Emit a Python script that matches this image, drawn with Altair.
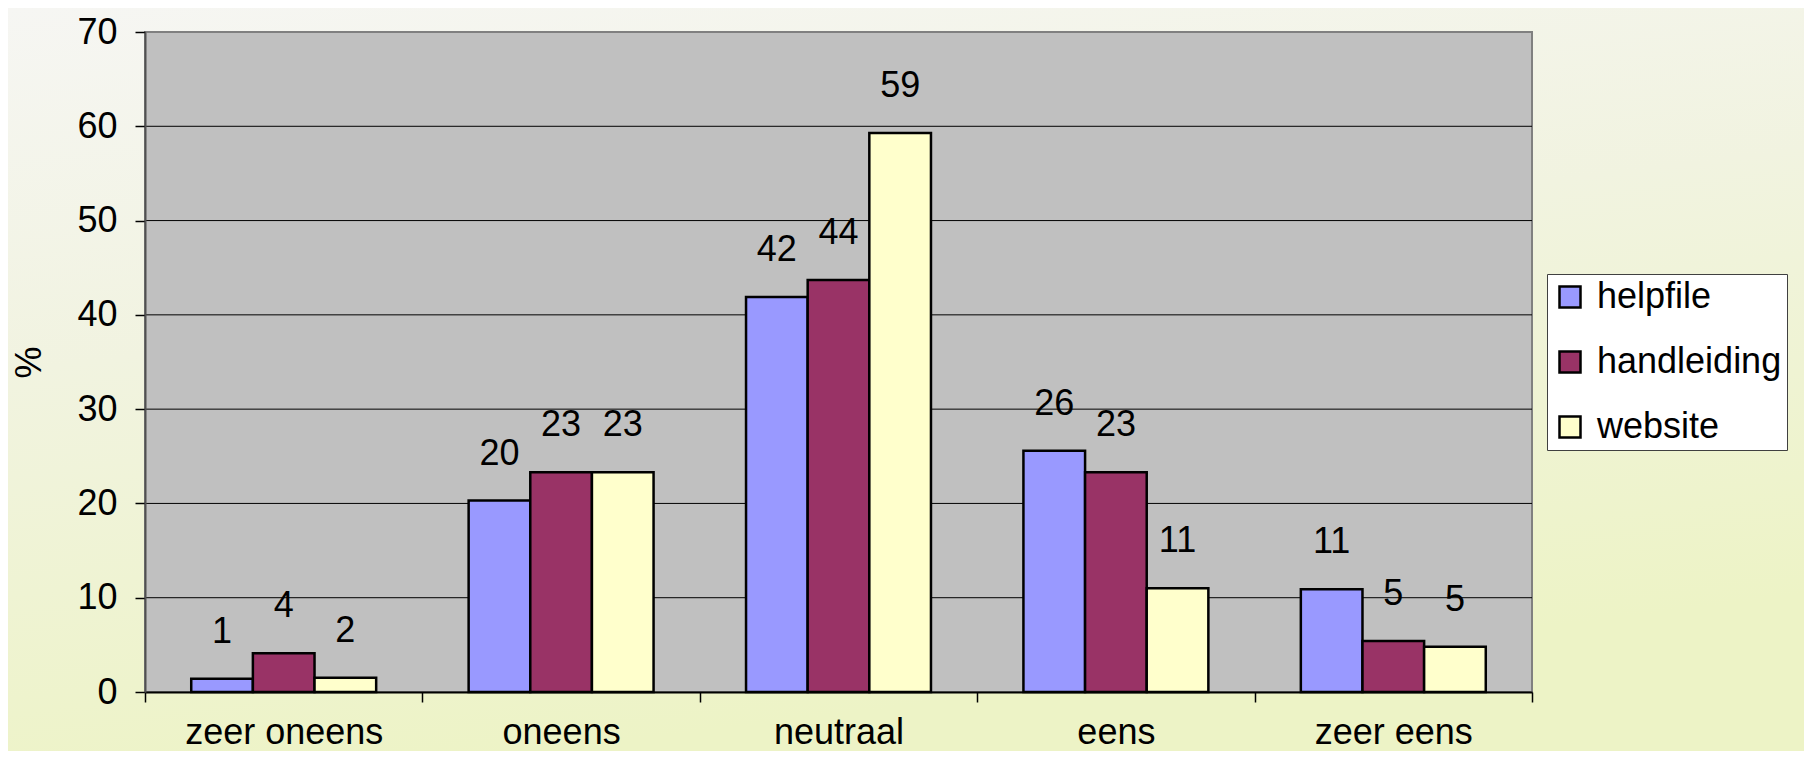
import altair as alt
import pandas as pd

categories = ["zeer oneens", "oneens", "neutraal", "eens", "zeer eens"]
series = ["helpfile", "handleiding", "website"]
helpfile = [1.4, 20.3, 41.9, 25.6, 10.9]
handleiding = [4.1, 23.3, 43.7, 23.3, 5.4]
website = [1.5, 23.3, 59.3, 11.0, 4.8]
y_ticks = [0, 10, 20, 30, 40, 50, 60, 70]
grid_values = [10, 20, 30, 40, 50, 60]
colors = ["#9999FF", "#993366", "#FFFFCC"]

rows = []
for s, vals in zip(series, [helpfile, handleiding, website]):
    for c, v in zip(categories, vals):
        rows.append({"categorie": c, "reeks": s, "waarde": v})
df = pd.DataFrame(rows)

W, H = 1387, 660
PAD = {"left": 137, "top": 24, "right": 272, "bottom": 59}
FONT = "Liberation Sans"

yscale = alt.Scale(domain=[0, 70], nice=False, zero=True)

x_axis = alt.Axis(
    title=None, labelFontSize=36, labelFont=FONT, labelColor="black",
    labelLimit=600, tickBand="extent", tickSize=10, tickColor="black",
    tickWidth=1.5, domainColor="black", domainWidth=2, labelPadding=41,
    labelBaseline="alphabetic", labelAngle=0, grid=False, zindex=1,
)
y_axis = alt.Axis(
    values=y_ticks, title="%", titleFontSize=36, titleFont=FONT, titleColor="black",
    titleFontWeight="normal", titleX=-116, titleY=H / 2, titleAngle=270,
    titleAlign="center", titleBaseline="middle",
    labelFontSize=36, labelFont=FONT, labelColor="black", labelPadding=18,
    tickSize=10, tickColor="black", tickWidth=1.5,
    domainColor="#505050", domainWidth=2, grid=False, zindex=1,
)

x_enc = alt.X(
    "categorie:N", sort=categories,
    scale=alt.Scale(paddingInner=0, paddingOuter=0),
    axis=x_axis,
)
xo_enc = alt.XOffset(
    "reeks:N", sort=series,
    scale=alt.Scale(paddingInner=0, paddingOuter=0.75),
)
y_enc = alt.Y("waarde:Q", scale=yscale, axis=y_axis)
color_enc = alt.Color(
    "reeks:N",
    sort=series,
    scale=alt.Scale(domain=series, range=colors),
    legend=alt.Legend(
        title=None, orient="none", legendX=1402, legendY=242,
        fillColor="white", strokeColor="#404040", padding=5,
        labelFontSize=36, labelFont=FONT, labelColor="black", labelLimit=600,
        symbolType="square", symbolSize=441, symbolStrokeColor="black",
        symbolStrokeWidth=2.5, symbolOpacity=1, labelOffset=9, rowPadding=29,
    ),
)

bg = alt.Chart(alt.Data(values=[{}])).mark_rect(
    fill=alt.Gradient(
        gradient="linear",
        stops=[
            alt.GradientStop(color="#F6F6F3", offset=0),
            alt.GradientStop(color="#F1F3E0", offset=0.45),
            alt.GradientStop(color="#EDF3C6", offset=1),
        ],
        x1=0, y1=0, x2=0.3, y2=1,
    )
).encode(
    x=alt.value(-PAD["left"]), x2=alt.value(W + PAD["right"]),
    y=alt.value(-PAD["top"]), y2=alt.value(H + PAD["bottom"]),
)

plot_bg = alt.Chart(alt.Data(values=[{}])).mark_rect(
    fill="#C0C0C0", stroke="#808080", strokeWidth=2
).encode(x=alt.value(0), x2=alt.value(W), y=alt.value(0), y2=alt.value(H))

grid = alt.Chart(pd.DataFrame({"waarde": grid_values})).mark_rule(
    color="black", strokeWidth=1
).encode(
    y=y_enc,
    x=alt.value(0), x2=alt.value(W),
)

base = alt.Chart(df)
bars = base.mark_bar(stroke="black", strokeWidth=2.5, opacity=1).encode(
    x=x_enc, xOffset=xo_enc, y=y_enc, color=color_enc
)
labels = base.mark_text(
    fontSize=36, font=FONT, color="black", baseline="alphabetic", dy=-36
).encode(
    x=x_enc, xOffset=xo_enc, y=y_enc, text=alt.Text("waarde:Q", format=".0f")
)

chart = alt.layer(bg, plot_bg, grid, bars, labels).properties(
    width=W, height=H, padding=PAD,
    autosize=alt.AutoSizeParams(type="none"),
    background="white",
).configure_view(stroke=None).configure(font=FONT)

chart.save("out.html", embed_options={"renderer": "svg", "actions": False})
